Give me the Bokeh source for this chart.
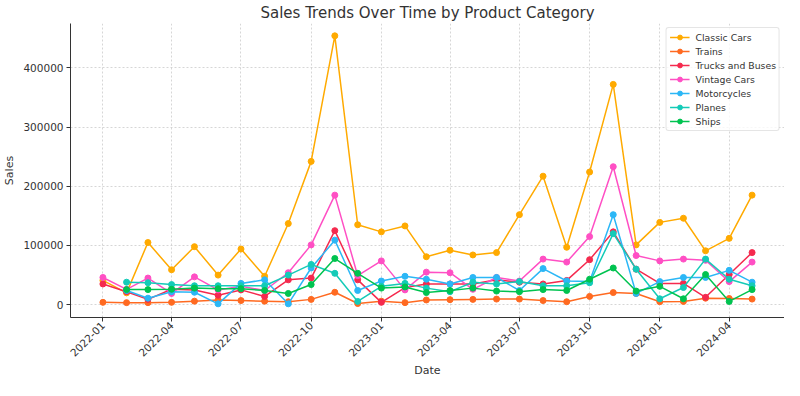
import math
import pandas as pd
from bokeh.plotting import figure
from bokeh.models import (Range1d, DatetimeTickFormatter, MonthsTicker,
                          NumeralTickFormatter, SingleIntervalTicker, ColumnDataSource)
from bokeh.embed import file_html
from bokeh.resources import INLINE

NaN = float("nan")

# ---- data (monthly, 2022-01 .. 2024-05) ----
dates = list(pd.date_range("2022-01-01", periods=29, freq="MS"))

categories = ["Classic Cars", "Trains", "Trucks and Buses", "Vintage Cars",
              "Motorcycles", "Planes", "Ships"]

classic_cars = [41000, 20000, 105000, 59000, 98000, 50000, 94000, 48000, 137000, 242000,
                454000, 135000, 123000, 133000, 81000, 92000, 84000, 88000, 152000, 217000,
                97000, 224000, 372000, 101000, 139000, 146000, 91000, 112000, 185000]
trains = [4000, 3500, 3500, 4000, 6000, 8000, 7000, 6000, 5000, 9000,
          21000, 2000, 6000, 3500, 8000, 8500, 9000, 9500, 9500, 7000,
          5000, 14000, 20500, 19000, 5000, 5500, 11000, 10500, 9500]
trucks_and_buses = [35000, 22000, 9000, 26000, 25000, 16000, 25000, 14000, 42000, 45000,
                    125000, 42000, 4000, 29000, 35000, 35000, 35000, 42000, 38000, 35000,
                    41000, 76000, 123000, 60000, 36000, 36000, 12500, 51000, 88000]
vintage_cars = [46000, 26000, 45000, 19000, 47000, 25000, 31000, 24000, 54000, 101000,
                185000, 49000, 74000, 25000, 55000, 54000, 26000, 46000, 40000, 77000,
                72000, 115000, 233000, 83000, 74000, 77000, 75000, 39000, 72000]
motorcycles = [NaN, 24000, 11000, 22000, 21000, 1500, 36000, 42000, 1500, 62000,
               109000, 24000, 40000, 48000, 43000, 35000, 46000, 46000, 24000, 61000,
               40000, 39000, 152000, 19000, 39000, 46000, 46000, 58000, 38000]
planes = [NaN, 38000, 37000, 34000, 32000, 32000, 32000, 32000, 50000, 68000,
          53000, 5500, 31000, 36000, 28000, 22000, 38000, 35000, 39000, 32000,
          32000, 37000, 120000, 60000, 10000, 29000, 77000, 43000, 32000]
ships = [NaN, 25500, 25500, 26000, 28000, 27000, 27000, 24000, 19000, 34000,
         78000, 53000, 28000, 30000, 20500, 24000, 28000, 23000, 22000, 25500,
         24000, 43000, 62000, 23000, 31000, 10000, 51000, 5500, 25500]

series = [classic_cars, trains, trucks_and_buses, vintage_cars, motorcycles, planes, ships]
colors = ["#FFAA00", "#FF6A21", "#F52A4E", "#FF4FC4", "#2BB7F6", "#14CBB8", "#00C350"]

FONT = "DejaVu Sans"
TXT = "#333333"

pad = pd.Timedelta(days=42.5)
p = figure(width=784, height=380, x_axis_type="datetime",
           output_backend="svg", toolbar_location=None,
           x_range=Range1d(dates[0] - pad, dates[-1] + pad),
           y_range=Range1d(-21600, 474800),
           min_border_left=10, min_border_right=0, min_border_top=4, min_border_bottom=0,
           title="Sales Trends Over Time by Product Category")

p.title.align = "center"
p.title.text_font = FONT
p.title.text_font_size = "15px"
p.title.text_font_style = "normal"
p.title.text_color = TXT
p.title.standoff = 3

p.outline_line_color = None
p.background_fill_color = "white"
p.border_fill_color = "white"

for vals, name, col in zip(series, categories, colors):
    src = ColumnDataSource(dict(x=dates, y=vals))
    p.line("x", "y", source=src, line_color=col, line_width=1.5, legend_label=name)
    p.scatter("x", "y", source=src, size=6, fill_color=col, line_color=col,
              legend_label=name)

# axes
p.xaxis.ticker = MonthsTicker(months=[0, 3, 6, 9])
p.xaxis.formatter = DatetimeTickFormatter(months="%Y-%m", days="%Y-%m", years="%Y-%m",
                                          context=None)
p.xaxis.major_label_orientation = math.pi / 4
p.yaxis.ticker = SingleIntervalTicker(interval=100000, num_minor_ticks=0)
p.yaxis.formatter = NumeralTickFormatter(format="0")
p.xaxis.axis_label = "Date"
p.yaxis.axis_label = "Sales"

for ax in (p.xaxis, p.yaxis):
    ax.axis_line_color = TXT
    ax.axis_line_width = 1
    ax.major_tick_line_color = TXT
    ax.major_tick_out = 4
    ax.major_tick_in = 0
    ax.minor_tick_line_color = None
    ax.major_label_text_font = FONT
    ax.major_label_text_font_size = "10.5px"
    ax.major_label_text_color = TXT
    ax.axis_label_text_font = FONT
    ax.axis_label_text_font_size = "11px"
    ax.axis_label_text_font_style = "normal"
    ax.axis_label_text_color = TXT
p.yaxis.major_label_standoff = 3
p.yaxis.axis_label_standoff = 4
p.xaxis.major_label_standoff = 2
p.xaxis.axis_label_standoff = 1
p.xaxis.axis_label_text_line_height = 0.8
p.xaxis.major_label_text_line_height = 0.9

for g in (p.xgrid, p.ygrid):
    g.grid_line_color = "#cccccc"
    g.grid_line_dash = "2 2"
    g.grid_line_width = 0.8

lg = p.legend[0]
lg.location = "top_right"
lg.margin = 4
lg.padding = 3
lg.spacing = 2
lg.label_height = 12
lg.glyph_height = 12
lg.glyph_width = 20
lg.label_standoff = 6
lg.label_text_font = FONT
lg.label_text_font_size = "9.3px"
lg.label_text_color = TXT
lg.border_line_color = "#cccccc"
lg.border_line_width = 1
lg.border_radius = 3
lg.background_fill_color = "white"
lg.background_fill_alpha = 0.8

open("out.html", "w").write(file_html(p, INLINE))
